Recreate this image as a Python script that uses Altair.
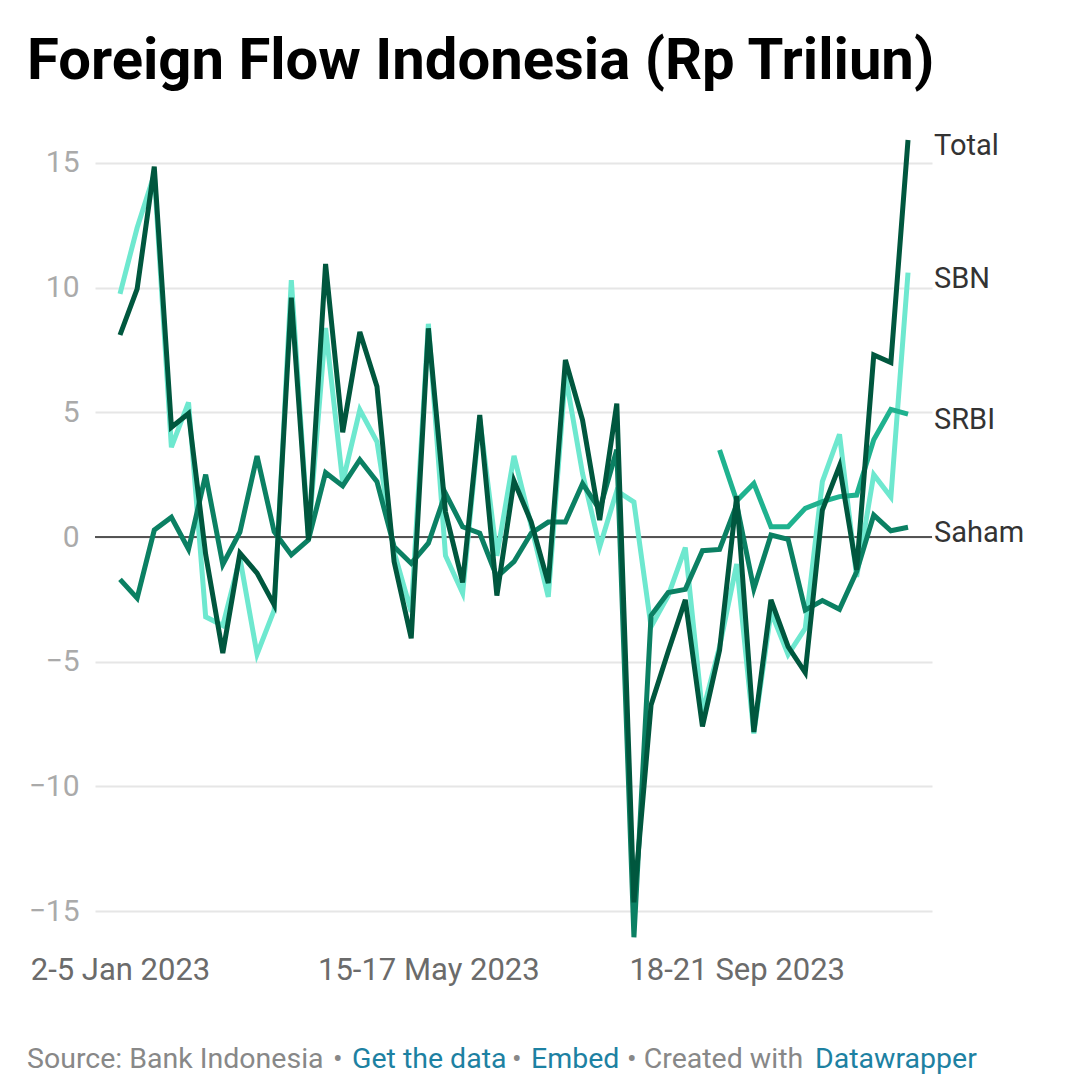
import altair as alt
import pandas as pd

# weekly foreign flows, Rp trillion (47 weeks, Jan - Nov 2023)
week = list(range(47))
total = [8.1, 9.95, 14.85, 4.4, 4.95, -0.7, -4.65, -0.65, -1.45, -2.72,
         9.6, -0.12, 10.95, 4.2, 8.22, 6.03, -0.99, -4.06, 8.37, 1.0,
         -1.82, 4.89, -2.35, 2.25, 0.61, -1.85, 7.1, 4.69, 0.68, 5.35,
         -14.65, -6.74, -4.59, -2.52, -7.6, -4.53, 1.64, -7.82, -2.52, -4.4,
         -5.44, 1.08, 2.85, -1.32, 7.3, 7.0, 15.92]
sbn = [9.75, 12.4, 14.55, 3.6, 5.4, -3.2, -3.55, -0.85, -4.7, -2.93,
       10.3, 0.0, 8.38, 2.2, 5.1, 3.82, -0.6, -3.0, 8.55, -0.75,
       -2.25, 4.74, -0.75, 3.25, 0.46, -2.4, 6.5, 2.55, -0.4, 1.85,
       1.4, -3.6, -2.35, -0.42, -7.05, -4.4, -1.08, -7.88, -3.0, -4.72,
       -3.66, 2.22, 4.12, -1.6, 2.5, 1.6, 10.6]
saham = [-1.7, -2.45, 0.28, 0.79, -0.49, 2.5, -1.1, 0.2, 3.25, 0.21,
         -0.72, -0.12, 2.58, 2.05, 3.1, 2.22, -0.39, -1.06, -0.25, 1.75,
         0.41, 0.15, -1.6, -0.99, 0.15, 0.6, 0.6, 2.14, 1.1, 3.5,
         -16.05, -3.15, -2.23, -2.1, -0.55, -0.5, 1.3, -2.08, 0.08, -0.09,
         -2.93, -2.55, -2.9, -1.39, 0.88, 0.25, 0.39]
srbi = [None] * 35 + [3.49, 1.45, 2.15, 0.41, 0.41, 1.15, 1.42, 1.62, 1.68,
                      3.9, 5.12, 4.93]

tick_index = [0, 18, 36]
tick_labels = ["2-5 Jan 2023", "15-17 May 2023", "18-21 Sep 2023"]
y_ticks = [-15, -10, -5, 0, 5, 10, 15]

# bottom to top drawing order
series = [("SBN", sbn, "#6ee8cf"), ("SRBI", srbi, "#1fb28f"),
          ("Saham", saham, "#0b8063"), ("Total", total, "#00573e")]

rows = []
for name, values, _ in series:
    for i, v in zip(week, values):
        if v is not None:
            rows.append({"week": i, "series": name, "value": v})
df = pd.DataFrame(rows)
last = df[df["week"] == max(week)]

label_expr = " : ".join(
    f"datum.value == {i} ? '{t}'" for i, t in zip(tick_index, tick_labels)
) + " : ''"

FONT = "Roboto"

x = alt.X(
    "week:Q",
    title=None,
    scale=alt.Scale(domain=[-1.46, 47.4], nice=False, zero=False),
    axis=alt.Axis(values=tick_index, labelExpr=label_expr, grid=False,
                  domain=False, ticks=False, labelFont=FONT, labelFontSize=31,
                  labelColor="#6b6b6b", labelPadding=15, labelOverlap=False,
                  labelFlush=False, labelLimit=500),
)
y = alt.Y(
    "value:Q",
    title=None,
    scale=alt.Scale(domain=[-16.16, 16.12], nice=False, zero=False),
    axis=alt.Axis(values=y_ticks, grid=True, gridColor="#e6e6e6", gridWidth=2,
                  domain=False, ticks=False, labelFont=FONT, labelFontSize=30,
                  labelColor="#aaaaaa", labelPadding=16),
)

base = alt.Chart(df)

zero = alt.Chart(pd.DataFrame({"value": [0]})).mark_rule(
    color="#222222", strokeWidth=1.4
).encode(y=alt.Y("value:Q"))

lines = [
    base.transform_filter(alt.datum.series == name)
    .mark_line(color=color, strokeWidth=5)
    .encode(x=x, y=y)
    for name, _, color in series
]

end_labels = alt.Chart(last).mark_text(
    align="left", baseline="middle", dx=26, dy=6, font=FONT, fontSize=29,
    color="#333333"
).encode(x="week:Q", y="value:Q", text="series:N")

# footer: text, left edge in px (relative to plot), colour
footer_parts = [
    ("Source: Bank Indonesia", -68, "#888888"),
    ("•", 238, "#888888"),
    ("Get the data", 257, "#1d81a2"),
    ("•", 417, "#888888"),
    ("Embed", 436, "#1d81a2"),
    ("• Created with", 532, "#888888"),
    ("Datawrapper", 720, "#1d81a2"),
]
footer = [
    alt.Chart(pd.DataFrame({"t": [t]})).mark_text(
        align="left", baseline="alphabetic", font=FONT, fontSize=28.5, color=c
    ).encode(x=alt.value(px), y=alt.value(933), text="t:N")
    for t, px, c in footer_parts
]

chart = alt.layer(zero, *lines, end_labels, *footer).properties(
    width=837,
    height=805,
    background="white",
    autosize=alt.AutoSizeParams(type="none"),
    padding={"left": 87, "top": 127, "right": 140, "bottom": 140},
    title=alt.TitleParams(
        "Foreign Flow Indonesia (Rp Triliun)", anchor="start", font=FONT,
        fontSize=58, fontWeight="bold", color="#000000", offset=48, dy=55,
        baseline="alphabetic",
    ),
).configure_view(stroke=None)

chart.save("out.html", embed_options={"renderer": "svg", "actions": False})
